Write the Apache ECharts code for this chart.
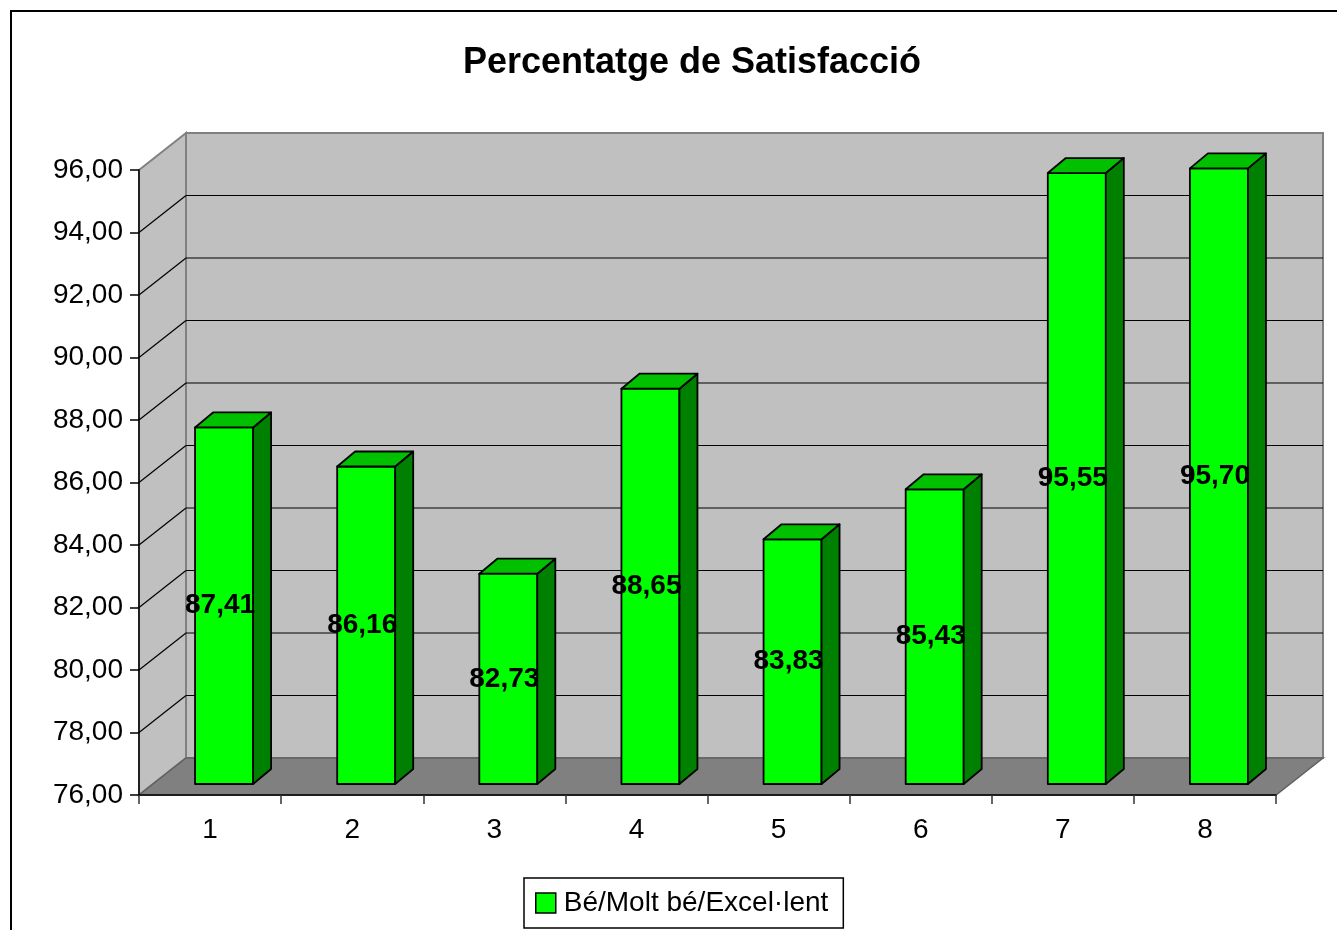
<!DOCTYPE html>
<html>
<head>
<meta charset="utf-8">
<script src="https://cdn.jsdelivr.net/npm/echarts@6/dist/echarts.min.js"></script>
<style>
html,body{margin:0;padding:0;background:#fff;}
#chart{width:1337px;height:930px;}
</style>
</head>
<body>
<div id="chart"></div>
<script>
const categories = ['1', '2', '3', '4', '5', '6', '7', '8'];
const satisfaction = [87.41, 86.16, 82.73, 88.65, 83.83, 85.43, 95.55, 95.70];
const seriesName = 'Bé/Molt bé/Excel·lent';
const chartTitle = 'Percentatge de Satisfacció';
const yMin = 76, yMax = 96, yStep = 2;

// 3D look (pixels)
const DEPTH_X = 47, DEPTH_Y = -37;     // full depth of the plot box
const BAR_OFF_X = 14, BAR_OFF_Y = -11; // bar front face offset
const BAR_DX = 18, BAR_DY = -15;       // bar depth
const BAR_W = 58;
const FONT = '"Liberation Sans", Arial, sans-serif';

function fmt(v) { return v.toFixed(2).replace('.', ','); }

const chart = echarts.init(document.getElementById('chart'));

const option = {
  animation: false,
  backgroundColor: '#fff',
  title: {
    text: chartTitle,
    left: 687,
    textAlign: 'center',
    top: 40,
    textStyle: { fontFamily: FONT, fontSize: 36, fontWeight: 'bold', color: '#000' }
  },
  graphic: [{
    type: 'rect',
    shape: { x: 11, y: 11, width: 1400, height: 1000 },
    style: { fill: 'none', stroke: '#000', lineWidth: 2 },
    silent: true
  }],
  legend: {
    data: [{ name: seriesName, icon: 'rect', itemStyle: { color: '#00FF00', borderColor: '#000', borderWidth: 1.5 } }],
    left: 524,
    top: 878,
    orient: 'horizontal',
    itemWidth: 20,
    itemHeight: 20,
    itemGap: 10,
    padding: [11, 15, 11, 11],
    borderColor: '#000',
    borderWidth: 1.5,
    backgroundColor: '#fff',
    selectedMode: false,
    textStyle: { fontFamily: FONT, fontSize: 28, color: '#000', padding: [0, 0, 0, 3] }
  },
  grid: { left: 139, top: 170, width: 1137, height: 625, containLabel: false },
  xAxis: {
    type: 'category',
    data: categories,
    boundaryGap: true,
    axisLine: { show: true, lineStyle: { color: '#000', width: 1.5 } },
    axisTick: { show: true, length: 9, lineStyle: { color: '#333', width: 1.5 } },
    axisLabel: { fontFamily: FONT, fontSize: 28, color: '#000', margin: 21 },
    splitLine: { show: false }
  },
  yAxis: {
    type: 'value',
    min: yMin,
    max: yMax,
    interval: yStep,
    axisLine: { show: true, lineStyle: { color: '#000', width: 1.5 } },
    axisTick: { show: true, length: 9, lineStyle: { color: '#000', width: 1.5 } },
    axisLabel: { fontFamily: FONT, fontSize: 28, color: '#000', margin: 16, formatter: v => fmt(v) },
    splitLine: { show: false }
  },
  series: [
    {
      type: 'custom',
      name: '__walls',
      z: -1,
      silent: true,
      clip: false,
      data: [[0, yMin]],
      renderItem: function (params, api) {
        const cs = params.coordSys;
        const x0 = cs.x, y0 = cs.y, x1 = cs.x + cs.width, y1 = cs.y + cs.height;
        const children = [];
        children.push({
          type: 'polygon',
          shape: { points: [[x0 + DEPTH_X, y0 + DEPTH_Y], [x1 + DEPTH_X, y0 + DEPTH_Y], [x1 + DEPTH_X, y1 + DEPTH_Y], [x0 + DEPTH_X, y1 + DEPTH_Y]] },
          style: { fill: '#C0C0C0', stroke: '#808080', lineWidth: 2 }
        });
        children.push({
          type: 'polygon',
          shape: { points: [[x0, y0], [x0 + DEPTH_X, y0 + DEPTH_Y], [x0 + DEPTH_X, y1 + DEPTH_Y], [x0, y1]] },
          style: { fill: '#C0C0C0', stroke: '#808080', lineWidth: 2 }
        });
        children.push({
          type: 'polygon',
          shape: { points: [[x0, y1], [x1, y1], [x1 + DEPTH_X, y1 + DEPTH_Y], [x0 + DEPTH_X, y1 + DEPTH_Y]] },
          style: { fill: '#808080', stroke: '#606060', lineWidth: 1.5 }
        });
        for (let v = yMin + yStep; v < yMax - 1e-9; v += yStep) {
          const y = api.coord([0, v])[1];
          children.push({
            type: 'line',
            shape: { x1: x0 + DEPTH_X, y1: y + DEPTH_Y, x2: x1 + DEPTH_X, y2: y + DEPTH_Y },
            style: { stroke: '#000', lineWidth: 1.2 }
          });
          children.push({
            type: 'line',
            shape: { x1: x0, y1: y, x2: x0 + DEPTH_X, y2: y + DEPTH_Y },
            style: { stroke: '#000', lineWidth: 1.2 }
          });
        }
        return { type: 'group', children: children };
      }
    },
    {
      type: 'custom',
      name: seriesName,
      clip: false,
      itemStyle: { color: '#00FF00', borderColor: '#000', borderWidth: 1.5 },
      encode: { x: 0, y: 1 },
      data: satisfaction.map((v, i) => [i, v]),
      renderItem: function (params, api) {
        const idx = api.value(0), val = api.value(1);
        const top = api.coord([idx, val]);
        const base = api.coord([idx, yMin]);
        const cx = top[0] + BAR_OFF_X;
        const l = cx - BAR_W / 2, r = cx + BAR_W / 2;
        const t = top[1] + BAR_OFF_Y, b = base[1] + BAR_OFF_Y;
        const st = { stroke: '#000', lineWidth: 1.8, lineJoin: 'round' };
        return {
          type: 'group',
          children: [
            { type: 'polygon', shape: { points: [[l, t], [r, t], [r, b], [l, b]] }, style: Object.assign({ fill: '#00FF00' }, st) },
            { type: 'polygon', shape: { points: [[r, t], [r + BAR_DX, t + BAR_DY], [r + BAR_DX, b + BAR_DY], [r, b]] }, style: Object.assign({ fill: '#008000' }, st) },
            { type: 'polygon', shape: { points: [[l, t], [l + BAR_DX, t + BAR_DY], [r + BAR_DX, t + BAR_DY], [r, t]] }, style: Object.assign({ fill: '#00C000' }, st) },
            { type: 'text', style: { text: fmt(val), x: cx - 4, y: (t + b) / 2, align: 'center', verticalAlign: 'middle', fontFamily: FONT, fontSize: 28, fontWeight: 'bold', fill: '#000' } }
          ]
        };
      }
    }
  ]
};

chart.setOption(option);
</script>
</body>
</html>
